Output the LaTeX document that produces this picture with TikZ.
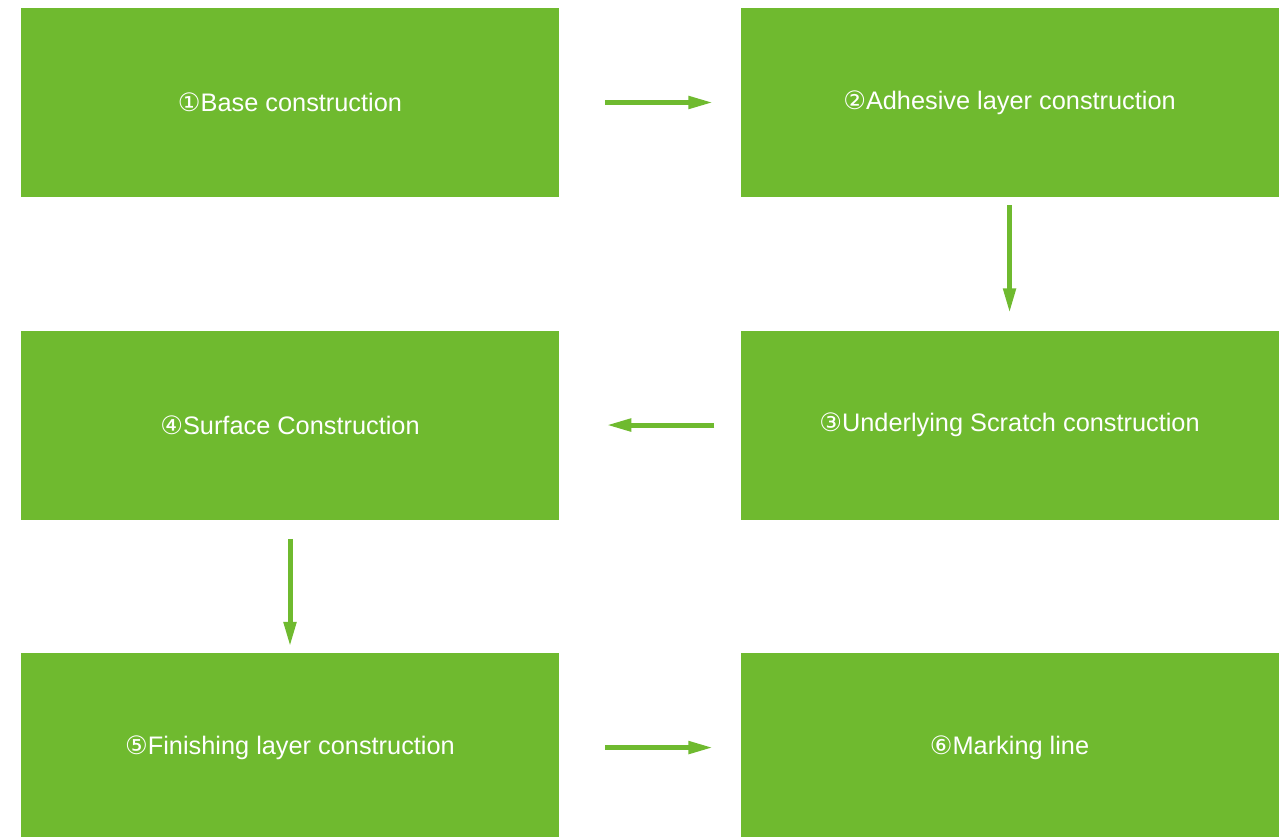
\documentclass[tikz,border=0pt]{standalone}
\usepackage{fontspec}
\setmainfont{Liberation Sans}
\newfontfamily\circfont{DejaVu Sans}
\usetikzlibrary{positioning, arrows.meta}
\definecolor{leaf}{RGB}{111,186,47}
\newcommand{\cnum}[1]{{\circfont #1}}

\begin{document}
\begin{tikzpicture}[x=0.75pt,y=-0.75pt,
    node distance=99.75pt and 135.75pt,
    box/.style={fill=leaf, minimum width=403.5pt, minimum height=141.75pt,
        inner sep=0pt, text=white, font=\fontsize{19}{22}\selectfont},
    arr/.style={draw=leaf, line width=3.75pt,
        -{Triangle[length=18.75pt,width=9pt]}}]

    \useasboundingbox (0,0) rectangle (1287,837);
    \clip (0,0) rectangle (1287,837);

    \node[box] (base) at (290,102.5) {\cnum{①}Base construction};
    \node[box,right=of base] (adhesive) {\cnum{②}Adhesive layer construction};
    \node[box,below=of adhesive] (scratch) {\cnum{③}Underlying Scratch construction};
    \node[box,below=of base] (surface) {\cnum{④}Surface Construction};
    \node[box,below=of surface] (finish) {\cnum{⑤}Finishing layer construction};
    \node[box,right=of finish] (marking) {\cnum{⑥}Marking line};

    \draw[arr]
    (base) edge[shorten <=34.5pt, shorten >=20.25pt] (adhesive)
    (adhesive) edge[shorten <=6pt, shorten >=12.75pt] (scratch)
    (scratch) edge[shorten <=19.5pt, shorten >=35.25pt] (surface)
    (surface) edge[shorten <=14.25pt, shorten >=4.5pt] (finish)
    (finish) edge[shorten <=34.5pt, shorten >=20.25pt] (marking);

\end{tikzpicture}
\end{document}
